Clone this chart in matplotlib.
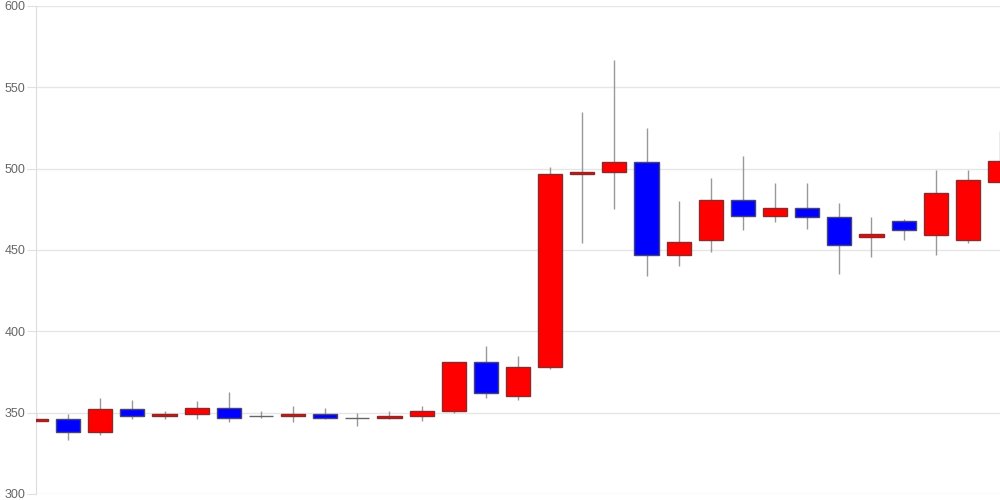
import matplotlib
matplotlib.use("Agg")
import matplotlib.pyplot as plt

plt.rcParams["font.family"] = ["Liberation Sans", "DejaVu Sans"]

# daily candles: open, close, high, low
opens = [345, 346, 338, 352, 348, 349, 353, 348, 348, 349, 347, 347, 348, 351, 381, 360,
         378, 497, 498, 504, 447, 456, 481, 471, 476, 470, 458, 468, 459, 456, 492]
closes = [346, 338, 352, 348, 349, 353, 347, 348, 349, 347, 347, 348, 351, 381, 362, 378,
          497, 498, 504, 447, 455, 481, 471, 476, 470, 453, 460, 462, 485, 493, 505]
highs = [350, 349, 359, 358, 351, 357, 363, 351, 354, 353, 350, 351, 354, 381, 391, 385,
         501, 535, 567, 525, 480, 494, 508, 491, 491, 479, 470, 469, 499, 499, 523]
lows = [345, 333, 336, 346, 346, 346, 344, 347, 344, 346, 342, 346, 345, 350, 359, 358,
        377, 454, 475, 434, 440, 449, 462, 467, 463, 435, 446, 456, 447, 454, 492]
yticks = [300, 350, 400, 450, 500, 550, 600]

fig = plt.figure(figsize=(10, 5), dpi=100)
ax = fig.add_axes([0.036, 0.012, 0.964, 0.976])

xs = list(range(len(opens)))
ax.vlines(xs, lows, highs, color="#999999", linewidth=1, zorder=2)

colors = []
edges = []
for o, c in zip(opens, closes):
    if c > o:
        colors.append("#ff0000")
        edges.append("#8a2a2a")
    elif c < o:
        colors.append("#0000ff")
        edges.append("#44447a")
    else:
        colors.append("#666666")
        edges.append("#666666")
heights = [c - o for o, c in zip(opens, closes)]
ax.bar(xs, heights, bottom=opens, width=0.75, color=colors,
       edgecolor=edges, linewidth=1, zorder=3)

ax.set_xlim(0, 30)
ax.set_ylim(300, 600)
ax.set_yticks(yticks)
ax.set_xticks([])
ax.grid(axis="y", color="#e6e6e6", linewidth=1, zorder=0)
ax.tick_params(axis="y", length=6.5, color="#e0e0e0", labelcolor="#666666",
               labelsize=9, pad=1)
for s in ["top", "right", "bottom"]:
    ax.spines[s].set_visible(False)
ax.spines["left"].set_color("#dddddd")

fig.savefig("out.png", dpi=100)
